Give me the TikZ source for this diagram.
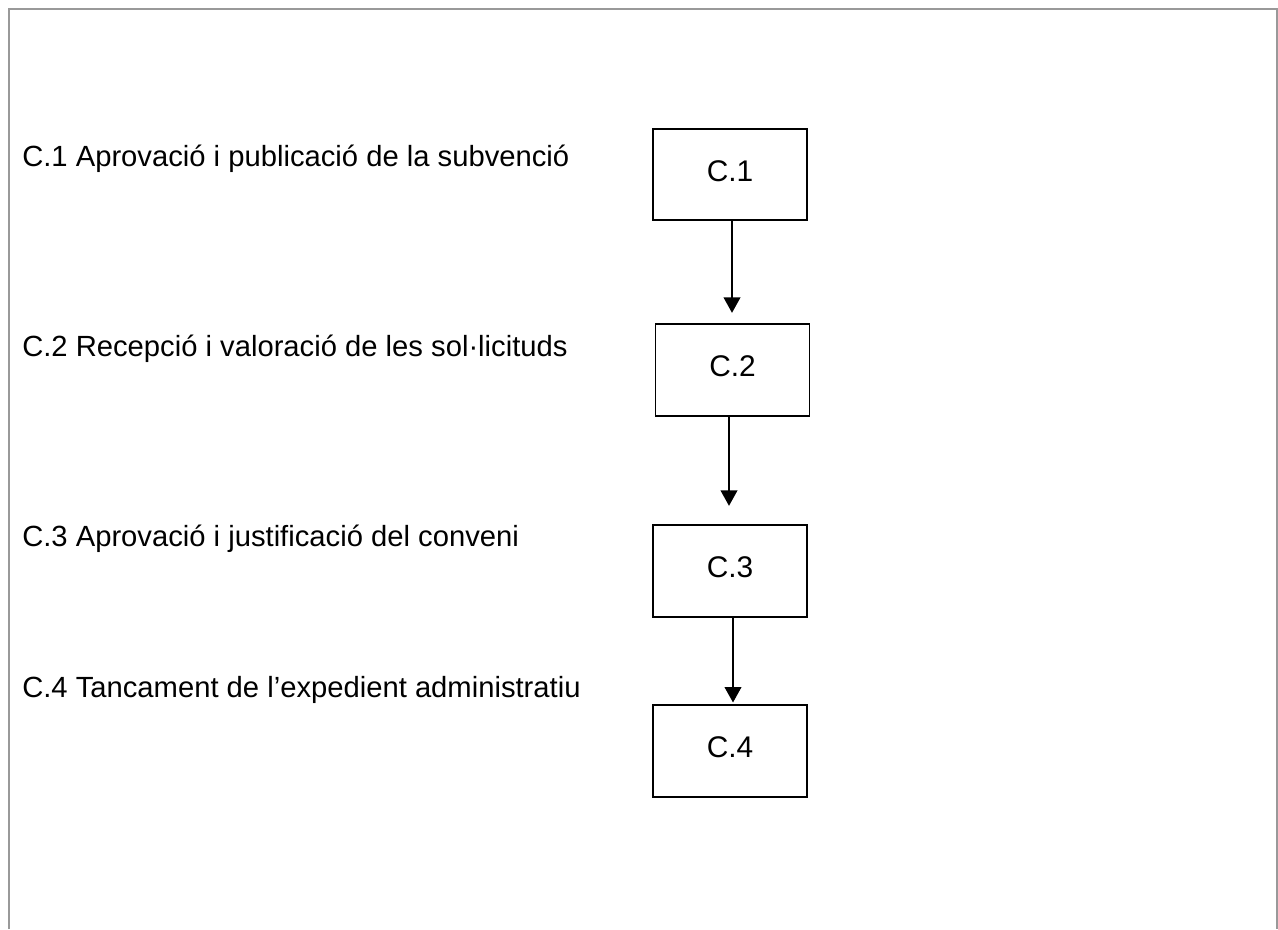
\documentclass[tikz,border=0pt]{standalone}
\usepackage{fontspec}
\setmainfont{Liberation Sans}
\usetikzlibrary{arrows.meta}
\tikzset{
  stage/.style={draw, line width=1.3pt, minimum width=115.5pt, minimum height=68.5pt, inner sep=0pt, font=\fontsize{22.4}{26}\selectfont, text height=16pt, text depth=6pt},
  caption/.style={anchor=base west, inner sep=0pt, font=\fontsize{21.9}{26}\selectfont},
  flow/.style={line width=1.1pt, -{Triangle[length=11.5pt,width=12.5pt]}}
}
\begin{document}
\begin{tikzpicture}[x=0.75pt,y=-0.75pt]
\useasboundingbox (0,0) rectangle (1278,929);
\draw[line width=1.6pt, color=black!40] (9,929) -- (9,9) -- (1277,9) -- (1277,929);

\node[caption] (t1) at (22,166) {C.1 Aprovació i publicació de la subvenció};
\node[caption] (t2) at (22,356) {C.2 Recepció i valoració de les sol·licituds};
\node[caption] (t3) at (22,546) {C.3 Aprovació i justificació del conveni};
\node[caption] (t4) at (22,697) {C.4 Tancament de l’expedient administratiu};

\node[stage] (c1) at (730,174.5) {C.1};
\node[stage] (c2) at (732.5,370) {C.2};
\node[stage] (c3) at (730,571) {C.3};
\node[stage] (c4) at (730,751) {C.4};

\draw[flow, shorten >=8pt] (c1.south) ++(2,0) coordinate (a1) -- (a1 |- c2.north);
\draw[flow, shorten >=14pt] (c2.south) ++(-3.5,0) coordinate (a2) -- (a2 |- c3.north);
\draw[flow, shorten >=1.5pt] (c3.south) ++(3,0) coordinate (a3) -- (a3 |- c4.north);
\end{tikzpicture}
\end{document}
